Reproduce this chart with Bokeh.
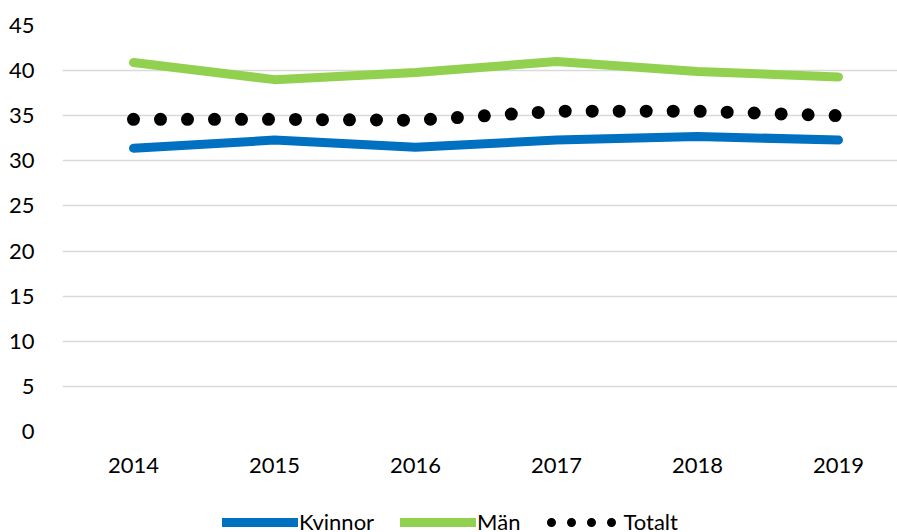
from bokeh.plotting import figure
from bokeh.models import Range1d, FixedTicker, Legend, LegendItem
from bokeh.layouts import column
from bokeh.embed import file_html
from bokeh.resources import INLINE

years = [2014, 2015, 2016, 2017, 2018, 2019]
kvinnor = [31.4, 32.3, 31.5, 32.3, 32.7, 32.3]
man = [40.9, 39.0, 39.8, 41.0, 39.9, 39.3]
totalt = [34.6, 34.6, 34.5, 35.5, 35.5, 35.0]
y_ticks = [0, 5, 10, 15, 20, 25, 30, 35, 40, 45]
series_names = ["Kvinnor", "Män", "Totalt"]

FONT = "Lato"
BLUE = "#0070C0"
GREEN = "#92D050"
BLACK = "#000000"

# ---------------- main chart ----------------
p = figure(width=897, height=484, output_backend="svg", toolbar_location=None,
           x_range=Range1d(2013.4965, 2019.4185), y_range=Range1d(0, 45),
           min_border_left=62, min_border_right=0, min_border_top=25,
           min_border_bottom=53)
p.outline_line_color = None
p.background_fill_color = "white"
p.border_fill_color = "white"

p.xgrid.grid_line_color = None
p.ygrid.grid_line_color = "#d9d9d9"
p.ygrid.grid_line_width = 1.5
p.ygrid.ticker = FixedTicker(ticks=y_ticks)

for ax in (p.xaxis[0], p.yaxis[0]):
    ax.axis_line_color = None
    ax.major_tick_line_color = None
    ax.minor_tick_line_color = None
    ax.major_tick_out = 0
    ax.major_tick_in = 0
    ax.minor_tick_out = 0
    ax.major_label_text_font = FONT
    ax.major_label_text_font_size = "22px"
    ax.major_label_text_color = BLACK

p.xaxis[0].ticker = FixedTicker(ticks=years)
p.xaxis[0].major_label_standoff = 26
p.yaxis[0].ticker = FixedTicker(ticks=y_ticks)
p.yaxis[0].major_label_standoff = 28

p.line(years, kvinnor, line_color=BLUE, line_width=9,
       line_cap="round", line_join="round")
p.line(years, man, line_color=GREEN, line_width=9,
       line_cap="round", line_join="round")
p.line(years, totalt, line_color=BLACK, line_width=13,
       line_cap="round", line_dash="0 27")

# ---------------- legend strip ----------------
lf = figure(width=897, height=48, output_backend="svg", toolbar_location=None,
            x_range=Range1d(0, 1), y_range=Range1d(0, 1),
            min_border_left=0, min_border_right=0, min_border_top=0,
            min_border_bottom=0)
lf.axis.visible = False
lf.grid.grid_line_color = None
lf.outline_line_color = None
lf.background_fill_color = "white"
lf.border_fill_color = "white"

# same series, drawn outside the strip's visible range: only their legend glyphs show
lk = lf.line(years, kvinnor, line_color=BLUE, line_width=9, line_cap="round")
lm = lf.line(years, man, line_color=GREEN, line_width=9, line_cap="round")
lt = lf.line(years, totalt, line_color=BLACK, line_width=9, line_cap="round",
             line_dash="0 20", line_dash_offset=15)

legend = Legend(items=[LegendItem(label=series_names[0], renderers=[lk]),
                       LegendItem(label=series_names[1], renderers=[lm]),
                       LegendItem(label=series_names[2], renderers=[lt])],
                orientation="horizontal", location=(160, -3),
                glyph_width=76, glyph_height=20, label_standoff=1,
                spacing=26, padding=0, margin=0,
                label_text_font=FONT, label_text_font_size="22px",
                label_text_color=BLACK,
                background_fill_alpha=0, border_line_color=None)
lf.add_layout(legend, "center")

layout = column(p, lf, spacing=0)
open("out.html", "w").write(file_html(layout, INLINE))
